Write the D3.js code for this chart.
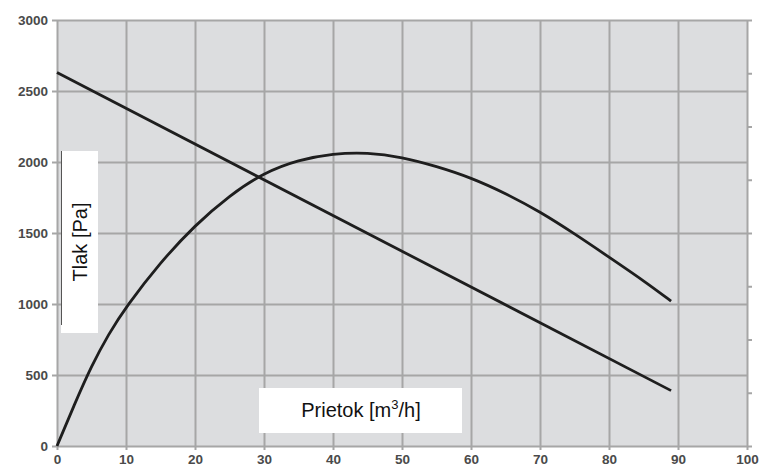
<!DOCTYPE html>
<meta charset="utf-8">
<style>
body { margin: 0; background: #fff; font-family: "Liberation Sans", Arial, sans-serif; }
.tick text { font-family: "Liberation Sans", Arial, sans-serif; font-weight: bold; font-size: 13.5px; fill: #4a4a4a; }
.axis path { display: none; }
.axis line { stroke: #a6a6a6; stroke-width: 2; }
</style>
<script src="https://d3js.org/d3.v7.min.js"></script>
<body>
<div id="chart"></div>
<script>
// axis ticks
var xTicks = [0, 10, 20, 30, 40, 50, 60, 70, 80, 90, 100];
var yTicks = [0, 500, 1000, 1500, 2000, 2500, 3000];
var rightTicks = [0, 1, 2, 3, 4, 5, 6, 7, 8];

// system curve (straight line)
var lineFlow = [0, 89];
var linePress = [2630, 390];

// fan curve
var fanFlow  = [0, 2.5, 5, 7.5, 10, 15, 20, 25, 30, 35, 40, 45, 50, 55, 60, 65, 70, 75, 80, 85, 89];
var fanPress = [0, 290, 565, 790, 980, 1295, 1555, 1765, 1925, 2015, 2060, 2068, 2035, 1970, 1890, 1780, 1650, 1495, 1330, 1165, 1020];

var W = 760, H = 470;
var margin = {top: 20, right: 13, bottom: 24, left: 57};
var width = W - margin.left - margin.right,
    height = H - margin.top - margin.bottom;

var svg = d3.select("#chart").append("svg")
    .attr("width", W)
    .attr("height", H);

var g = svg.append("g")
    .attr("transform", "translate(" + margin.left + "," + margin.top + ")");

var x = d3.scaleLinear().domain([0, 100]).range([0, width]);
var y = d3.scaleLinear().domain([0, 3000]).range([height, 0]);
var yr = d3.scaleLinear().domain([0, 8]).range([height, 0]);

// plot background
g.append("rect")
    .attr("width", width)
    .attr("height", height)
    .attr("fill", "#dcdddf");

// grid + axes
var ya = g.append("g")
    .attr("class", "axis")
    .call(d3.axisLeft(y).tickValues(yTicks).tickSize(-width).tickFormat(d3.format("d")));
ya.selectAll(".tick line").attr("x1", -5).attr("x2", width);
ya.selectAll(".tick text").attr("x", -9).attr("dy", "0.35em");

var xa = g.append("g")
    .attr("class", "axis")
    .attr("transform", "translate(0," + height + ")")
    .call(d3.axisBottom(x).tickValues(xTicks).tickSize(-height).tickFormat(d3.format("d")));
xa.selectAll(".tick line").attr("y1", 4).attr("y2", -height);
xa.selectAll(".tick text").attr("y", 8).attr("dy", "0.71em");

g.append("g")
    .attr("class", "axis")
    .attr("transform", "translate(" + width + ",0)")
    .call(d3.axisRight(yr).tickValues(rightTicks).tickSize(5).tickFormat(""))
    .selectAll(".tick line").attr("stroke-width", 1.5);

// curves
var sysLine = d3.line()
    .x(function(d) { return x(d[0]); })
    .y(function(d) { return y(d[1]); });

g.append("path")
    .datum(lineFlow.map(function(f, i) { return [f, linePress[i]]; }))
    .attr("d", sysLine)
    .attr("fill", "none")
    .attr("stroke", "#1e1e1e")
    .attr("stroke-width", 2.8);

var fanLine = d3.line()
    .x(function(d) { return x(d[0]); })
    .y(function(d) { return y(d[1]); })
    .curve(d3.curveBasis);

g.append("path")
    .datum(fanFlow.map(function(f, i) { return [f, fanPress[i]]; }))
    .attr("d", fanLine)
    .attr("fill", "none")
    .attr("stroke", "#1e1e1e")
    .attr("stroke-width", 2.8);

// y label box
svg.append("rect")
    .attr("x", 61).attr("y", 151)
    .attr("width", 37).attr("height", 182)
    .attr("fill", "#fff");
svg.append("line")
    .attr("x1", 61.5).attr("x2", 61.5)
    .attr("y1", 151).attr("y2", 325)
    .attr("stroke", "#555").attr("stroke-width", 1);
svg.append("text")
    .attr("transform", "translate(87,242) rotate(-90)")
    .attr("text-anchor", "middle")
    .style("font-size", "20px")
    .style("fill", "#111")
    .text("Tlak [Pa]");

// x label box
svg.append("rect")
    .attr("x", 259).attr("y", 388)
    .attr("width", 203).attr("height", 45)
    .attr("fill", "#fff");
var xl = svg.append("text")
    .attr("x", 361).attr("y", 417)
    .attr("text-anchor", "middle")
    .style("font-size", "20px")
    .style("fill", "#111");
xl.append("tspan").text("Prietok [m");
xl.append("tspan").attr("dy", -8).style("font-size", "13px").text("3");
xl.append("tspan").attr("dy", 8).text("/h]");
</script>
</body>
